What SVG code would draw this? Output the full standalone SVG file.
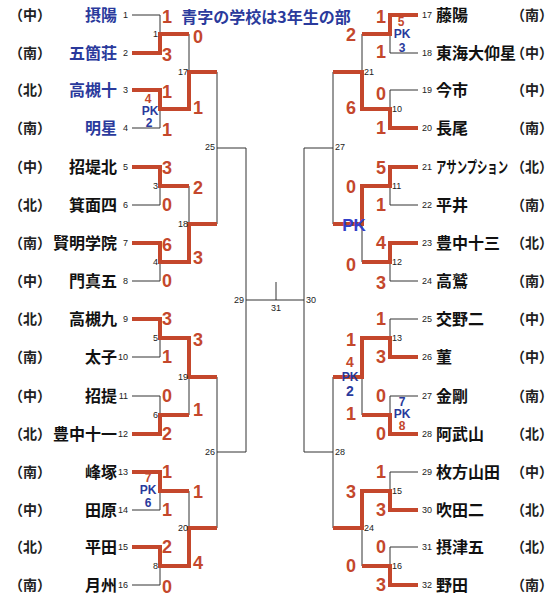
<svg xmlns="http://www.w3.org/2000/svg" width="560" height="601" viewBox="0 0 560 601">
<style>
.t{font-family:"Noto Sans CJK JP","Noto Sans CJK SC",sans-serif;font-weight:bold;font-size:16px;fill:#111}
.L{text-anchor:end}
.tb{fill:#2a3a9c}
.rg{font-family:"Noto Sans CJK JP",sans-serif;font-weight:bold;font-size:14px;fill:#222;text-anchor:middle}
.n{font-family:"Liberation Sans",Arial,sans-serif;font-size:9px;fill:#222}
.s{font-family:"Liberation Sans",Arial,sans-serif;font-weight:bold;font-size:18px;fill:#c4472c;text-anchor:middle}
.pk{font-family:"Liberation Sans",Arial,sans-serif;font-weight:bold;font-size:12px;fill:#2a3a9c;text-anchor:middle}
.r{fill:#c4472c}
.thin{fill:none;stroke:#333;stroke-width:1}
.thick{fill:none;stroke:#c4472c;stroke-width:4;stroke-linejoin:miter}
</style>
<rect width="560" height="601" fill="#fff"/>
<text x="266" y="23" class="t tb" text-anchor="middle">青字の学校は3年生の部</text>
<g id="connectors">
<path class="thin" d="M132,15H160M132,53H160M132,90H160M132,128H160M132,167H160M132,205H160M132,243H160M132,281H160M132,319H160M132,357H160M132,396H160M132,434H160M132,472H160M132,510H160M132,547H160M132,585H160
M160,15V53M160,90V128M160,167V205M160,243V281M160,319V357M160,396V434M160,472V510M160,547V585
M160,34H189M160,109H189M160,186H189M160,262H189M160,338H189M160,415H189M160,491H189M160,566H189
M189,34V109M189,186V262M189,338V415M189,491V566
M189,72H217M189,224H217M189,377H217M189,528H217
M217,72V224M217,377V528M217,148H246M217,452H246M246,148V452M246,300H304M276,282V300
M390,15H418M390,53H418M390,90H418M390,128H418M390,167H418M390,205H418M390,243H418M390,281H418M390,319H418M390,357H418M390,396H418M390,434H418M390,472H418M390,510H418M390,547H418M390,585H418
M390,15V53M390,90V128M390,167V205M390,243V281M390,319V357M390,396V434M390,472V510M390,547V585
M362,34H390M362,109H390M362,186H390M362,262H390M362,338H390M362,415H390M362,491H390M362,566H390
M362,34V109M362,186V262M362,338V415M362,491V566
M333,72H362M333,224H362M333,377H362M333,528H362
M333,72V224M333,377V528M304,148H333M304,452H333M304,148V452"/>
<path class="thick" d="M132,53H160V34H189M132,90H160V109H189V72H217M132,167H160V186H189M132,243H160V262H189V224H217M132,319H160V338H189V377H217M132,434H160V415H189M132,472H160V491H189M132,547H160V566H189V528H217"/>
<path class="thick" d="M418,15H390V34H362M418,128H390V109H362V72H333M418,167H390V186H362V224H333M418,243H390V262H362M418,357H390V338H362V377H333M418,434H390V415H362M418,510H390V491H362V528H333M418,585H390V566H362"/>
<g class="n">
<text x="158" y="37" text-anchor="end">1</text><text x="158" y="189" text-anchor="end">3</text><text x="158" y="265" text-anchor="end">4</text><text x="158" y="341" text-anchor="end">5</text><text x="158" y="418" text-anchor="end">6</text><text x="158" y="569" text-anchor="end">8</text>
<text x="188" y="75" text-anchor="end">17</text><text x="188" y="227" text-anchor="end">18</text><text x="188" y="380" text-anchor="end">19</text><text x="188" y="531" text-anchor="end">20</text>
<text x="215" y="150" text-anchor="end">25</text><text x="215" y="455" text-anchor="end">26</text>
<text x="244" y="303" text-anchor="end">29</text><text x="276" y="311" text-anchor="middle">31</text><text x="306" y="303">30</text>
<text x="392" y="112">10</text><text x="392" y="189">11</text><text x="392" y="265">12</text><text x="392" y="341">13</text><text x="392" y="494">15</text><text x="392" y="569">16</text>
<text x="364" y="75">21</text><text x="364" y="531">24</text><text x="335" y="150">27</text><text x="335" y="455">28</text>
</g>
</g>
<g id="team1"><text class="rg" x="30" y="20">（中）</text><text class="t tb L" x="117" y="21">摂陽</text><text class="n" x="128" y="18" text-anchor="end">1</text></g>
<g id="team2"><text class="rg" x="30" y="58">（南）</text><text class="t tb L" x="117" y="59">五箇荘</text><text class="n" x="128" y="56" text-anchor="end">2</text></g>
<g id="team3"><text class="rg" x="30" y="95">（北）</text><text class="t tb L" x="117" y="96">高槻十</text><text class="n" x="128" y="93" text-anchor="end">3</text></g>
<g id="team4"><text class="rg" x="30" y="133">（南）</text><text class="t tb L" x="117" y="134">明星</text><text class="n" x="128" y="131" text-anchor="end">4</text></g>
<g id="team5"><text class="rg" x="30" y="172">（中）</text><text class="t L" x="117" y="173">招堤北</text><text class="n" x="128" y="170" text-anchor="end">5</text></g>
<g id="team6"><text class="rg" x="30" y="210">（北）</text><text class="t L" x="117" y="211">箕面四</text><text class="n" x="128" y="208" text-anchor="end">6</text></g>
<g id="team7"><text class="rg" x="30" y="248">（南）</text><text class="t L" x="117" y="249">賢明学院</text><text class="n" x="128" y="246" text-anchor="end">7</text></g>
<g id="team8"><text class="rg" x="30" y="286">（中）</text><text class="t L" x="117" y="287">門真五</text><text class="n" x="128" y="284" text-anchor="end">8</text></g>
<g id="team9"><text class="rg" x="30" y="324">（北）</text><text class="t L" x="117" y="325">高槻九</text><text class="n" x="128" y="322" text-anchor="end">9</text></g>
<g id="team10"><text class="rg" x="30" y="362">（南）</text><text class="t L" x="117" y="363">太子</text><text class="n" x="128" y="360" text-anchor="end">10</text></g>
<g id="team11"><text class="rg" x="30" y="401">（中）</text><text class="t L" x="117" y="402">招提</text><text class="n" x="128" y="399" text-anchor="end">11</text></g>
<g id="team12"><text class="rg" x="30" y="439">（北）</text><text class="t L" x="117" y="440">豊中十一</text><text class="n" x="128" y="437" text-anchor="end">12</text></g>
<g id="team13"><text class="rg" x="30" y="477">（南）</text><text class="t L" x="117" y="478">峰塚</text><text class="n" x="128" y="475" text-anchor="end">13</text></g>
<g id="team14"><text class="rg" x="30" y="515">（中）</text><text class="t L" x="117" y="516">田原</text><text class="n" x="128" y="513" text-anchor="end">14</text></g>
<g id="team15"><text class="rg" x="30" y="552">（北）</text><text class="t L" x="117" y="553">平田</text><text class="n" x="128" y="550" text-anchor="end">15</text></g>
<g id="team16"><text class="rg" x="30" y="590">（南）</text><text class="t L" x="117" y="591">月州</text><text class="n" x="128" y="588" text-anchor="end">16</text></g>
<g id="team17"><text class="n" x="422" y="18">17</text><text class="t" x="436" y="21">藤陽</text><text class="rg" x="532" y="20">（南）</text></g>
<g id="team18"><text class="n" x="422" y="56">18</text><text class="t" x="436" y="59">東海大仰星</text><text class="rg" x="532" y="58">（中）</text></g>
<g id="team19"><text class="n" x="422" y="93">19</text><text class="t" x="436" y="96">今市</text><text class="rg" x="532" y="95">（中）</text></g>
<g id="team20"><text class="n" x="422" y="131">20</text><text class="t" x="436" y="134">長尾</text><text class="rg" x="532" y="133">（南）</text></g>
<g id="team21"><text class="n" x="422" y="170">21</text><text class="t" x="436" y="173" textLength="72" lengthAdjust="spacingAndGlyphs">アサンプション</text><text class="rg" x="532" y="172">（北）</text></g>
<g id="team22"><text class="n" x="422" y="208">22</text><text class="t" x="436" y="211">平井</text><text class="rg" x="532" y="210">（南）</text></g>
<g id="team23"><text class="n" x="422" y="246">23</text><text class="t" x="436" y="249">豊中十三</text><text class="rg" x="532" y="248">（北）</text></g>
<g id="team24"><text class="n" x="422" y="284">24</text><text class="t" x="436" y="287">高鷲</text><text class="rg" x="532" y="286">（南）</text></g>
<g id="team25"><text class="n" x="422" y="322">25</text><text class="t" x="436" y="325">交野二</text><text class="rg" x="532" y="324">（中）</text></g>
<g id="team26"><text class="n" x="422" y="360">26</text><text class="t" x="436" y="363">菫</text><text class="rg" x="532" y="362">（中）</text></g>
<g id="team27"><text class="n" x="422" y="399">27</text><text class="t" x="436" y="402">金剛</text><text class="rg" x="532" y="401">（南）</text></g>
<g id="team28"><text class="n" x="422" y="437">28</text><text class="t" x="436" y="440">阿武山</text><text class="rg" x="532" y="439">（北）</text></g>
<g id="team29"><text class="n" x="422" y="475">29</text><text class="t" x="436" y="478">枚方山田</text><text class="rg" x="532" y="477">（中）</text></g>
<g id="team30"><text class="n" x="422" y="513">30</text><text class="t" x="436" y="516">吹田二</text><text class="rg" x="532" y="515">（北）</text></g>
<g id="team31"><text class="n" x="422" y="550">31</text><text class="t" x="436" y="553">摂津五</text><text class="rg" x="532" y="552">（北）</text></g>
<g id="team32"><text class="n" x="422" y="588">32</text><text class="t" x="436" y="591">野田</text><text class="rg" x="532" y="590">（南）</text></g>
<g id="scores-left">
<text class="s" x="167" y="23">1</text><text class="s" x="167" y="61">3</text>
<text class="s" x="167" y="98">1</text><text class="s" x="167" y="136">1</text>
<text class="pk r" x="148" y="103">4</text><text class="pk" x="150" y="115">PK</text><text class="pk" x="149" y="127">2</text>
<text class="s" x="167" y="174">3</text><text class="s" x="167" y="211">0</text>
<text class="s" x="167" y="251">6</text><text class="s" x="167" y="287">0</text>
<text class="s" x="167" y="325">3</text><text class="s" x="167" y="363">1</text>
<text class="s" x="167" y="402">0</text><text class="s" x="167" y="440">2</text>
<text class="s" x="167" y="478">1</text><text class="s" x="167" y="516">1</text>
<text class="pk r" x="148" y="482">7</text><text class="pk" x="148" y="494">PK</text><text class="pk" x="148" y="507">6</text>
<text class="s" x="167" y="553">2</text><text class="s" x="167" y="593">0</text>
<text class="s" x="198" y="43">0</text><text class="s" x="198" y="114">1</text>
<text class="s" x="198" y="194">2</text><text class="s" x="198" y="264">3</text>
<text class="s" x="198" y="346">3</text><text class="s" x="198" y="416">1</text>
<text class="s" x="198" y="498">1</text><text class="s" x="198" y="569">4</text>
</g>
<g id="scores-right">
<text class="s" x="381" y="23">1</text><text class="s" x="381" y="58">1</text>
<text class="pk r" x="401" y="26">5</text><text class="pk" x="402" y="38">PK</text><text class="pk" x="402" y="52">3</text>
<text class="s" x="381" y="100">0</text><text class="s" x="381" y="134">1</text>
<text class="s" x="381" y="174">5</text><text class="s" x="381" y="211">1</text>
<text class="s" x="381" y="249">4</text><text class="s" x="381" y="289">3</text>
<text class="s" x="381" y="325">1</text><text class="s" x="381" y="363">3</text>
<text class="s" x="381" y="402">0</text><text class="s" x="381" y="440">0</text>
<text class="pk" x="402" y="406">7</text><text class="pk" x="402" y="418">PK</text><text class="pk r" x="402" y="430">8</text>
<text class="s" x="381" y="478">1</text><text class="s" x="381" y="516">3</text>
<text class="s" x="381" y="553">0</text><text class="s" x="381" y="591">3</text>
<text class="s" x="351" y="41">2</text><text class="s" x="351" y="114">6</text>
<text class="s" x="351" y="193">0</text><text class="s" x="351" y="271">0</text>
<text class="pk" x="354" y="231" style="font-size:17px;fill:#3240c8">PK</text>
<text class="s" x="351" y="346">1</text>
<text class="pk r" x="350" y="367" style="font-size:14px">4</text><text class="pk" x="350" y="381">PK</text><text class="pk" x="350" y="396" style="font-size:14px">2</text>
<text class="s" x="351" y="420">1</text>
<text class="s" x="351" y="498">3</text><text class="s" x="351" y="572">0</text>
</g>
</svg>
